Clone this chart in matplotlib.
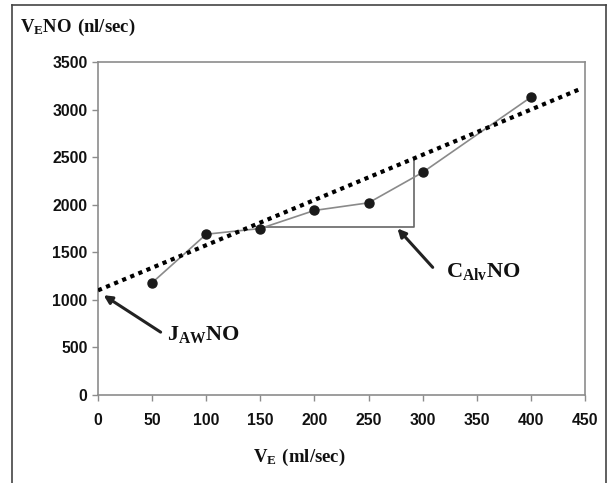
import matplotlib.pyplot as plt
import numpy as np
from matplotlib.lines import Line2D

plt.rcParams['mathtext.fontset'] = 'custom'
plt.rcParams['mathtext.rm'] = 'Liberation Serif'
plt.rcParams['mathtext.bf'] = 'Liberation Serif:bold'

# measured points
ve = [50, 100, 150, 200, 250, 300, 400]
veno = [1180, 1690, 1750, 1940, 2020, 2340, 3130]

# trend line
trend_x = [0, 445]
trend_intercept = 1100
trend_slope = 4.75

# slope triangle
tri_x = [150, 292, 292]
tri_y = [1765, 1765, 2480]

xticks = [0, 50, 100, 150, 200, 250, 300, 350, 400, 450]
yticks = [0, 500, 1000, 1500, 2000, 2500, 3000, 3500]

fig = plt.figure(figsize=(6.1, 4.83), dpi=100)
ax = fig.add_axes([0.1607, 0.1822, 0.7983, 0.6894])

tx = np.array(trend_x)
ax.plot(tx, trend_intercept + trend_slope * tx, color='black', lw=3,
        linestyle=(0, (1, 1.1)), zorder=3)
ax.plot(ve, veno, color='#8a8a8a', lw=1.2, zorder=2)
ax.plot(ve, veno, 'o', color='#1a1a1a', ms=6.5, zorder=4)
ax.plot(tri_x, tri_y, color='#666666', lw=1.2, zorder=1)

ax.set_xlim(0, 450)
ax.set_ylim(0, 3500)
ax.set_xticks(xticks)
ax.set_yticks(yticks)
for s in ax.spines.values():
    s.set_color('#8c8c8c')
    s.set_linewidth(1.2)
ax.tick_params(colors='#8c8c8c', length=4, width=1)
for lab in ax.get_xticklabels() + ax.get_yticklabels():
    lab.set_fontfamily('Liberation Sans')
    lab.set_fontweight('bold')
    lab.set_fontsize(11.3)
    lab.set_color('#111111')
ax.tick_params(axis='x', pad=9)

# arrows
ax.annotate('', xy=(275, 1772), xytext=(311, 1320),
            arrowprops=dict(arrowstyle='-|>', color='#222222', lw=2.2, mutation_scale=12))
ax.annotate('', xy=(3, 1065), xytext=(60, 645),
            arrowprops=dict(arrowstyle='-|>', color='#222222', lw=2.2, mutation_scale=12))

ax.text(322, 1245, r'$\mathbf{C_{Alv}NO}$', fontsize=16, color='#111111')
ax.text(64, 575, r'$\mathbf{J_{AW}NO}$', fontsize=16, color='#111111')

fig.text(0.033, 0.933, r'$\mathbf{V_{E}NO\ (nl/sec)}$', fontsize=13.5, color='#111111')
fig.text(0.49, 0.043, r'$\mathbf{V_{E}\ (ml/sec)}$', fontsize=13.5, color='#111111', ha='center')

# outer frame
fc = '#444444'
fig.add_artist(Line2D([0.02, 0.02], [0, 0.99], color=fc, lw=1.2, transform=fig.transFigure))
fig.add_artist(Line2D([0.02, 0.993], [0.99, 0.99], color=fc, lw=1.2, transform=fig.transFigure))
fig.add_artist(Line2D([0.993, 0.993], [0, 0.99], color=fc, lw=1.2, transform=fig.transFigure))

fig.savefig('out.png', dpi=100)
